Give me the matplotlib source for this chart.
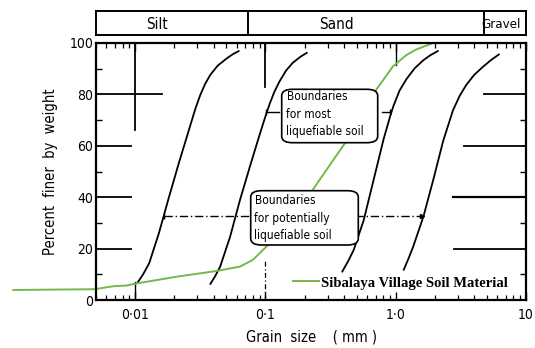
import matplotlib
matplotlib.use("Agg")
import matplotlib.pyplot as plt
from matplotlib.patches import FancyBboxPatch

# ---- data ----
b1_x = [0.0104, 0.0115, 0.0128, 0.0152, 0.0182, 0.0216, 0.0265, 0.029, 0.0316, 0.0345,
        0.0377, 0.043, 0.0504, 0.056, 0.0625]
b1_y = [6.7, 10.0, 14.3, 26.0, 40.2, 53.2, 68.0, 74.5, 79.8, 84.2,
        87.6, 91.2, 94.0, 95.6, 96.9]
b2_x = [0.0377, 0.041, 0.0449, 0.0535, 0.0637, 0.0759, 0.0904, 0.1, 0.108, 0.117, 0.128,
        0.144, 0.162, 0.185, 0.208]
b2_y = [6.2, 9.2, 13.0, 24.6, 38.9, 51.9, 64.5, 71.5, 76.5, 81.0, 85.0,
        89.3, 92.3, 94.6, 96.2]
b3_x = [0.388, 0.43, 0.476, 0.568, 0.676, 0.806, 0.9, 0.96, 1.07, 1.21, 1.4, 1.62, 1.85, 2.11]
b3_y = [11.0, 15.0, 19.5, 31.1, 46.7, 62.5, 71.0, 75.5, 81.5, 86.0, 90.2, 93.2, 95.3, 96.9]
b4_x = [1.15, 1.25, 1.36, 1.63, 1.94, 2.31, 2.75, 3.1, 3.47, 4.0, 4.64, 5.4, 6.21]
b4_y = [11.7, 16.0, 20.7, 32.4, 46.7, 61.8, 73.8, 79.5, 83.6, 87.6, 90.6, 93.4, 95.6]

soil_x = [0.00116, 0.00487, 0.0069, 0.0085, 0.0104, 0.021, 0.0423, 0.0637, 0.080,
          0.0957, 0.114, 0.162, 0.23, 0.424, 0.536, 0.677, 0.948, 1.205, 1.44, 1.94, 5.0]
soil_y = [3.9, 4.2, 5.4, 5.6, 6.5, 9.1, 11.3, 13.0, 15.6,
          19.5, 23.3, 32.4, 42.8, 62.3, 71.3, 80.4, 90.8, 95.3, 97.5, 100, 100]
soil_label = "Sibalaya Village Soil Material"

class_names = ["Silt", "Sand", "Gravel"]
class_bounds = [0.074, 4.76]
class_text_x = [0.0147, 0.353, 6.4]

x_ticks = [0.01, 0.1, 1, 10]
x_ticklabels = ["0·01", "0·1", "1·0", "10"]
y_ticks = [0, 20, 40, 60, 80, 100]

# ---- figure ----
W, H = 535, 348
fig = plt.figure(figsize=(W / 100, H / 100), dpi=100)
fig.patch.set_facecolor("white")

def fx(px):
    return px / W

def fy(py):
    return 1 - py / H

ax = fig.add_axes([fx(96), fy(300), fx(526) - fx(96), fy(43) - fy(300)])
ax.set_xscale("log")
ax.set_xlim(0.005, 10)
ax.set_ylim(0, 100)

txtfont = dict(family="DejaVu Sans", stretch="condensed")

for xs, ys in [(b1_x, b1_y), (b2_x, b2_y), (b3_x, b3_y), (b4_x, b4_y)]:
    ax.plot(xs, ys, color="black", lw=1.3, solid_capstyle="round", solid_joinstyle="round")

ax.plot(soil_x, soil_y, color="#72b84b", lw=1.4, clip_on=False, zorder=2.2,
        label=soil_label, solid_joinstyle="round")

for s in ax.spines.values():
    s.set_linewidth(1.6)

ax.set_xticks(x_ticks)
ax.set_xticklabels(x_ticklabels, **txtfont, fontsize=10)
ax.tick_params(axis="x", which="major", direction="in", top=True, length=6, width=1.0, pad=6)
ax.tick_params(axis="x", which="minor", direction="in", top=True, length=3.5, width=0.9)
ax.set_yticks(y_ticks)
ax.set_yticklabels([str(v) for v in y_ticks], **txtfont, fontsize=10)
ax.set_yticks([10, 30, 50, 70, 90], minor=True)
ax.tick_params(axis="y", which="major", length=0, pad=2)
ax.tick_params(axis="y", which="minor", direction="in", right=True, length=4, width=1.0)

ax.set_xlabel("Grain  size    ( mm )", **txtfont, fontsize=10.5, labelpad=5)
ax.set_ylabel("Percent  finer  by  weight", **txtfont, fontsize=10.5, labelpad=8)

# chart's own reference marks
k = dict(color="black", lw=1.3)
ax.plot([0.005, 0.016], [80, 80], **k)
ax.plot([0.01, 0.01], [66, 100], **k)
for yv in [60, 40, 20]:
    ax.plot([0.005, 0.0093], [yv, yv], **k)
ax.plot([4.75, 10], [80, 80], **k)
ax.plot([3.35, 10], [60, 60], **k)
ax.plot([2.75, 10], [40, 40], color="black", lw=1.6)
ax.plot([2.8, 10], [20, 20], **k)
ax.plot([0.1, 0.1], [83, 100], **k)
ax.plot([1.0, 1.0], [91.4, 100], color="black", lw=1.0)
ax.plot([0.1, 0.1], [0, 15.6], color="black", lw=0.9, ls=(0, (4, 2, 1, 2)))
ax.plot([0.01, 0.01], [0, 7], color="black", lw=1.0)

# connector lines to boundary curves
dd = dict(color="black", lw=1.0, ls=(0, (6, 2, 1, 2)))
ax.plot([0.0166, 0.0745], [32.8, 32.8], **dd)
ax.plot([0.49, 1.58], [32.8, 32.8], **dd)
ax.plot([0.0166], [32.8], marker="|", color="black", ms=5)
ax.plot([1.58], [32.8], marker=">", color="black", ms=3)
ax.plot([0.101, 0.127], [73, 73], color="black", lw=1.0)
ax.plot([0.101], [73], marker="|", color="black", ms=5)
ax.plot([0.78, 0.91], [73, 73], color="black", lw=1.0)
ax.plot([0.9], [73], marker="|", color="black", ms=5)

# annotation boxes
def ax_frac(px, py):
    return (px - 96) / 430, (300 - py) / 257

def box(p0, p1, lines, tx, ty):
    x0, y0 = ax_frac(p0[0], p1[1])
    x1, y1 = ax_frac(p1[0], p0[1])
    patch = FancyBboxPatch((x0, y0), x1 - x0, y1 - y0,
                           boxstyle="round,pad=0,rounding_size=0.025",
                           transform=ax.transAxes, facecolor="white",
                           edgecolor="black", lw=1.2, zorder=3)
    ax.add_patch(patch)
    tx_, ty_ = ax_frac(tx, ty)
    ax.text(tx_, ty_, lines, transform=ax.transAxes, ha="left", va="center",
            fontsize=8.6, linespacing=1.45, zorder=4, **txtfont)

box((281.7, 89.3), (377.7, 142.7), "Boundaries\nfor most\nliquefiable soil", 286.5, 114.5)
box((250.7, 190.7), (358.3, 245), "Boundaries\nfor potentially\nliquefiable soil", 254.5, 218.5)

# legend
leg = ax.legend(loc="center left", bbox_to_anchor=(fx(293), fy(283)),
                bbox_transform=fig.transFigure, frameon=False,
                prop=dict(family="Liberation Serif", weight="bold", size=10.5),
                handlelength=1.75, handletextpad=0.15, borderpad=0, borderaxespad=0)

# header band (soil classes)
hx = fig.add_axes([fx(96), fy(35), fx(526) - fx(96), fy(11) - fy(35)])
hx.set_xscale("log")
hx.set_xlim(0.005, 10)
hx.set_ylim(0, 1)
hx.set_xticks([])
hx.set_yticks([])
hx.minorticks_off()
for s in hx.spines.values():
    s.set_linewidth(1.4)
for b in class_bounds:
    hx.plot([b, b], [0, 1], color="black", lw=1.4)
for name, xc in zip(class_names, class_text_x):
    hx.text(xc, 0.45, name, ha="center", va="center",
            fontsize=11 if name != "Gravel" else 9.5, **txtfont)

fig.savefig("out.png", dpi=100)
